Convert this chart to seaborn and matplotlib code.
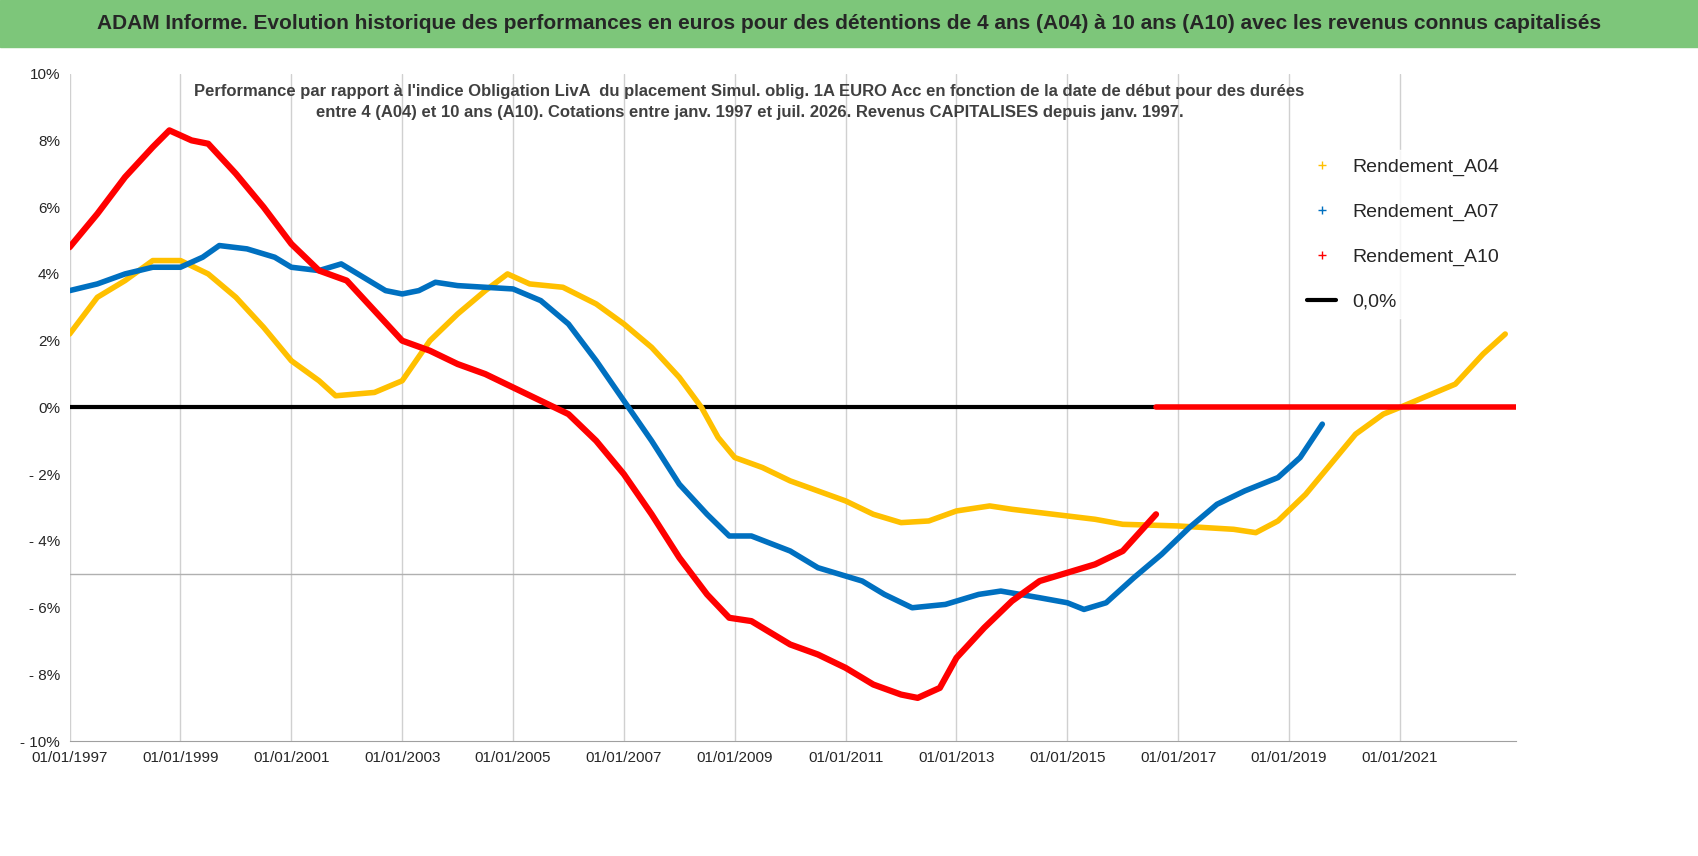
import numpy as np
import pandas as pd
import seaborn as sns
import matplotlib.pyplot as plt
from matplotlib.lines import Line2D

# values (year as decimal, percent)
a04_x = [1997.0, 1997.5, 1998, 1998.5, 1999, 1999.5, 2000, 2000.5, 2001, 2001.5, 2001.8, 2002.5, 2003, 2003.5,
         2004, 2004.5, 2004.9, 2005.3, 2005.9, 2006.5, 2007, 2007.5, 2008, 2008.4, 2008.7, 2009, 2009.5, 2010,
         2010.5, 2011, 2011.5, 2012, 2012.5, 2013, 2013.6, 2014, 2015, 2015.5, 2016, 2017, 2018, 2018.4, 2018.8,
         2019.3, 2019.7, 2020.2, 2020.7, 2021.0, 2021.5, 2022, 2022.5, 2022.9]
a04_y = [2.2, 3.3, 3.8, 4.4, 4.4, 4.0, 3.3, 2.4, 1.4, 0.8, 0.35, 0.45, 0.8, 2.0,
         2.8, 3.5, 4.0, 3.7, 3.6, 3.1, 2.5, 1.8, 0.9, 0.0, -0.9, -1.5, -1.8, -2.2,
         -2.5, -2.8, -3.2, -3.45, -3.4, -3.1, -2.95, -3.05, -3.25, -3.35, -3.5, -3.55, -3.65, -3.75, -3.4,
         -2.6, -1.8, -0.8, -0.2, 0.0, 0.35, 0.7, 1.6, 2.2]

a07_x = [1997.0, 1997.5, 1998, 1998.5, 1999, 1999.4, 1999.7, 2000.2, 2000.7, 2001, 2001.5, 2001.9, 2002.2, 2002.7,
         2003, 2003.3, 2003.6, 2004, 2004.5, 2005, 2005.5, 2006, 2006.5, 2007, 2007.5, 2008, 2008.5, 2008.9,
         2009.3, 2010, 2010.5, 2011.3, 2011.7, 2012.2, 2012.8, 2013.4, 2013.8, 2014.5, 2015, 2015.3, 2015.7,
         2016.2, 2016.7, 2017.2, 2017.7, 2018.2, 2018.8, 2019.2, 2019.6]
a07_y = [3.5, 3.7, 4.0, 4.2, 4.2, 4.5, 4.85, 4.75, 4.5, 4.2, 4.1, 4.3, 4.0, 3.5,
         3.4, 3.5, 3.75, 3.65, 3.6, 3.55, 3.2, 2.5, 1.4, 0.2, -1.0, -2.3, -3.2, -3.85,
         -3.85, -4.3, -4.8, -5.2, -5.6, -6.0, -5.9, -5.6, -5.5, -5.7, -5.85, -6.05, -5.85,
         -5.1, -4.4, -3.6, -2.9, -2.5, -2.1, -1.5, -0.5]

a10_x = [1997.0, 1997.5, 1998, 1998.5, 1998.8, 1999.2, 1999.5, 2000, 2000.5, 2001, 2001.5, 2002, 2002.5, 2003,
         2003.5, 2004, 2004.5, 2005, 2005.5, 2006, 2006.5, 2007, 2007.5, 2008, 2008.5, 2008.9, 2009.3, 2010,
         2010.5, 2011, 2011.5, 2012, 2012.3, 2012.7, 2013, 2013.5, 2014, 2014.5, 2015, 2015.5, 2016, 2016.6]
a10_y = [4.8, 5.8, 6.9, 7.8, 8.3, 8.0, 7.9, 7.0, 6.0, 4.9, 4.1, 3.8, 2.9, 2.0,
         1.7, 1.3, 1.0, 0.6, 0.2, -0.2, -1.0, -2.0, -3.2, -4.5, -5.6, -6.3, -6.4, -7.1,
         -7.4, -7.8, -8.3, -8.6, -8.7, -8.4, -7.5, -6.6, -5.8, -5.2, -4.95, -4.7, -4.3, -3.2]
a10_tail_x = [2016.6, 2023.1]
a10_tail_y = [0.0, 0.0]

zero_x = [1997.0, 2016.6]
zero_y = [0.0, 0.0]

tick_years = list(range(1997, 2023, 2))
tick_labels = ["01/01/%d" % y for y in tick_years]

sns.set_style("white")
plt.rcParams['font.family'] = ['Liberation Sans', 'DejaVu Sans']

fig = plt.figure(figsize=(16.98, 8.56), dpi=100)
fig.patches.append(plt.Rectangle((0, 0.945), 1, 0.055, transform=fig.transFigure,
                                 color="#7dc67a", zorder=0))
fig.text(0.5, 0.972, "ADAM Informe. Evolution historique des performances en euros pour des détentions de 4 ans (A04) à 10 ans (A10) avec les revenus connus capitalisés",
         ha="center", va="center", fontsize=15, fontweight="bold")

ax = fig.add_axes([0.041, 0.134, 0.852, 0.78])
for yr in tick_years:
    ax.axvline(yr, color="#d0d0d0", lw=1, zorder=0)
ax.axhline(-5, color="#b0b0b0", lw=1, zorder=0)

sns.lineplot(x=zero_x, y=zero_y, color="black", lw=3, ax=ax)
sns.lineplot(x=a04_x, y=a04_y, color="#ffc000", lw=4, ax=ax)
sns.lineplot(x=a07_x, y=a07_y, color="#0070c0", lw=4, ax=ax)
sns.lineplot(x=a10_x, y=a10_y, color="#ff0000", lw=4.5, ax=ax)
sns.lineplot(x=a10_tail_x, y=a10_tail_y, color="#ff0000", lw=4, ax=ax)

ax.set_xlim(1997, 2023.1)
ax.set_ylim(-10, 10)
ax.set_xticks(tick_years)
ax.set_xticklabels(tick_labels, fontsize=11)
yt = list(range(-10, 11, 2))
ax.set_yticks(yt)
ax.set_yticklabels([("- %d%%" % -v) if v < 0 else "%d%%" % v for v in yt], fontsize=11)
for s in ax.spines.values():
    s.set_visible(False)
ax.spines["bottom"].set_visible(True)
ax.spines["bottom"].set_color("#a0a0a0")

ax.text(0.47, 0.985, "Performance par rapport à l'indice Obligation LivA  du placement Simul. oblig. 1A EURO Acc en fonction de la date de début pour des durées\n"
        "entre 4 (A04) et 10 ans (A10). Cotations entre janv. 1997 et juil. 2026. Revenus CAPITALISES depuis janv. 1997.",
        transform=ax.transAxes, ha="center", va="top", fontsize=12, fontweight="bold",
        color="#404040", linespacing=1.5)

handles = [Line2D([], [], color="#ffc000", marker="+", ls="none", ms=6),
           Line2D([], [], color="#0070c0", marker="+", ls="none", ms=6),
           Line2D([], [], color="#ff0000", marker="+", ls="none", ms=6),
           Line2D([], [], color="black", lw=3)]
ax.legend(handles, ["Rendement_A04", "Rendement_A07", "Rendement_A10", "0,0%"],
          loc="upper right", bbox_to_anchor=(1.0, 0.9), frameon=True, facecolor="white",
          edgecolor="white", fontsize=14, labelspacing=1.4, handlelength=1.5)

fig.savefig("out.png", dpi=100)
